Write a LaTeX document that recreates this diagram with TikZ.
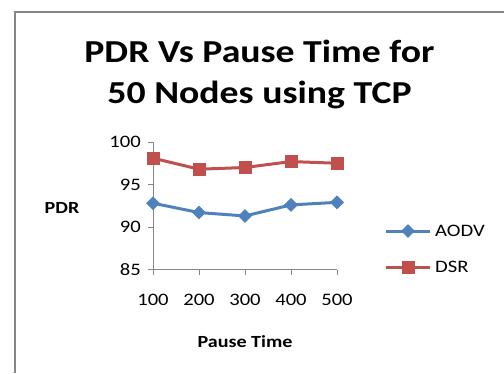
\documentclass[tikz,border=0pt]{standalone}
\usepackage{fontspec}
\setmainfont{Carlito}
\usepackage{tikz}
\usetikzlibrary{shapes.geometric,calc}

\definecolor{aodv}{HTML}{4F81BD}
\definecolor{dsr}{HTML}{C0504D}
\definecolor{axisgray}{HTML}{868686}
\newcommand{\xwide}[1]{\scalebox{1.18}[1]{#1}}

\begin{document}
\begin{tikzpicture}[x=1pt,y=-1pt,
ttl/.style={anchor=base,inner sep=0pt,font=\fontsize{32}{38}\selectfont\bfseries},
lbl/.style={inner sep=0pt,font=\fontsize{17.5}{20}\selectfont},
axlbl/.style={inner sep=0pt,font=\fontsize{17}{20}\selectfont\bfseries},
axis/.style={draw=axisgray,line width=0.9pt},
aline/.style={draw=aodv,line width=3pt,line join=round},
dline/.style={draw=dsr,line width=3pt,line join=round},
amark/.style={diamond,fill=aodv,inner sep=0pt,minimum size=14pt},
dmark/.style={rectangle,fill=dsr,inner sep=0pt,minimum size=13pt}]

\useasboundingbox (0,0) rectangle (504,373);
% outer frame
\draw[axisgray,line width=2pt] (15,373) -- (15,12) -- (504,12);

% title
\node[ttl] (t1) at (259.5,62) {\xwide{PDR Vs Pause Time for}};
\node[ttl] (t2) at (259.5,103) {\xwide{50 Nodes using TCP}};

% axes
\coordinate (o) at (153,269.5);
\coordinate (ytop) at (153,142);
\coordinate (xend) at (337,269.5);
\draw[axis] (ytop) -- (o) -- (xend);
\draw[axis] (148,142) -- (153,142);
\draw[axis] (148,184.5) -- (153,184.5);
\draw[axis] (148,227) -- (153,227);
\draw[axis] (148,269.5) -- (153,269.5);
\draw[axis] (153,269.5) -- (153,274.5);
\draw[axis] (199,269.5) -- (199,274.5);
\draw[axis] (245,269.5) -- (245,274.5);
\draw[axis] (291,269.5) -- (291,274.5);
\draw[axis] (337,269.5) -- (337,274.5);

\node[lbl,anchor=east] (y100) at (141,142) {\xwide{100}};
\node[lbl,anchor=east] (y95) at (141,184.5) {\xwide{95}};
\node[lbl,anchor=east] (y90) at (141,227) {\xwide{90}};
\node[lbl,anchor=east] (y85) at (141,269.5) {\xwide{85}};
\node[lbl] (x100) at (153,300) {\xwide{100}};
\node[lbl] (x200) at (199,300) {\xwide{200}};
\node[lbl] (x300) at (245,300) {\xwide{300}};
\node[lbl] (x400) at (291,300) {\xwide{400}};
\node[lbl] (x500) at (337,300) {\xwide{500}};

\node[axlbl] (ylab) at (62,208) {\xwide{PDR}};
\node[axlbl] (xlab) at (245,342) {\xwide{Pause Time}};

% data, values above 85
\begin{scope}[shift={(153,269.5)},x=46pt,y=8.5pt]
\coordinate (d1) at (0,13.1);
\coordinate (d2) at (1,11.8);
\coordinate (d3) at (2,12.0);
\coordinate (d4) at (3,12.7);
\coordinate (d5) at (4,12.5);
\coordinate (a1) at (0,7.8);
\coordinate (a2) at (1,6.7);
\coordinate (a3) at (2,6.3);
\coordinate (a4) at (3,7.6);
\coordinate (a5) at (4,7.9);
\end{scope}
\draw[dline] (d1) -- (d2) -- (d3) -- (d4) -- (d5);
\draw[aline] (a1) -- (a2) -- (a3) -- (a4) -- (a5);
\node[dmark] (dm1) at (d1) {};
\node[dmark] (dm2) at (d2) {};
\node[dmark] (dm3) at (d3) {};
\node[dmark] (dm4) at (d4) {};
\node[dmark] (dm5) at (d5) {};
\node[amark] (am1) at (a1) {};
\node[amark] (am2) at (a2) {};
\node[amark] (am3) at (a3) {};
\node[amark] (am4) at (a4) {};
\node[amark] (am5) at (a5) {};

% legend
\coordinate (la1) at (386,231);
\coordinate (la2) at (430,231);
\coordinate (ld1) at (386,267);
\coordinate (ld2) at (430,267);
\draw[aline] (la1) -- (la2);
\draw[dline] (ld1) -- (ld2);
\node[amark] (lam) at ($(la1)!0.5!(la2)$) {};
\node[dmark] (ldm) at ($(ld1)!0.5!(ld2)$) {};
\node[lbl,anchor=west] (laodv) at (435,231) {\xwide{AODV}};
\node[lbl,anchor=west] (ldsr) at (435,267) {\xwide{DSR}};
\end{tikzpicture}
\end{document}
